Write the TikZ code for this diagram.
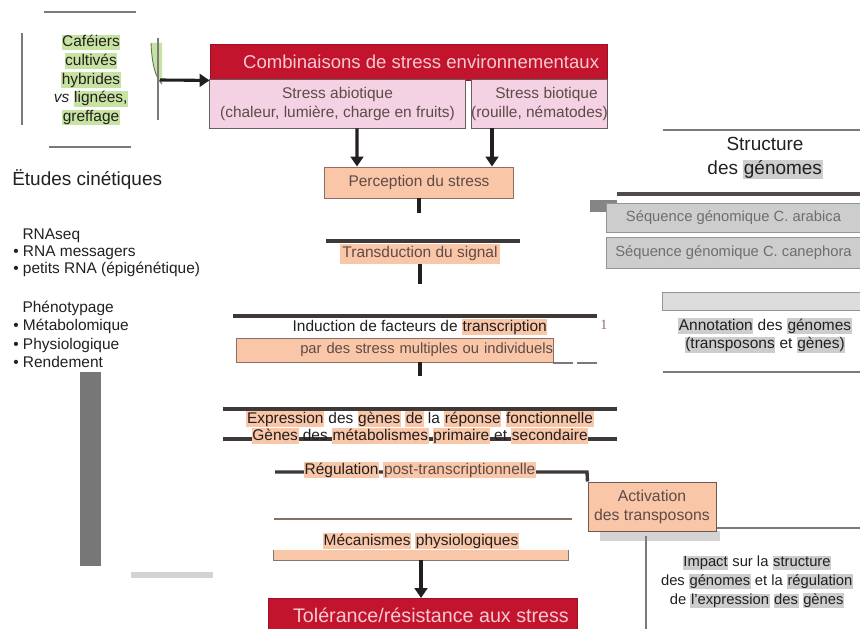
\documentclass[tikz,border=0pt]{standalone}
\usepackage{fontspec}
\setmainfont{Liberation Sans}
\newfontfamily\serifface{Liberation Serif}
\usepackage{xcolor}
\usepackage{tikz}
\usetikzlibrary{calc,arrows.meta}
\definecolor{ink}{HTML}{231F20}
\definecolor{blur}{HTML}{5E4B47}
\definecolor{crimson}{HTML}{C3142D}
\definecolor{blush}{HTML}{F4D2E4}
\definecolor{peach}{HTML}{FAC6A8}
\definecolor{leaf}{HTML}{C6E3A1}
\definecolor{fog}{HTML}{CDCDCD}
\definecolor{rulegrey}{HTML}{7A7A7A}
\definecolor{ruledark}{HTML}{3E3837}
\definecolor{rulebrown}{HTML}{8C6E66}
\definecolor{pinktext}{HTML}{F7C9D1}
\definecolor{slab}{HTML}{777777}
\definecolor{mist}{HTML}{D3D3D3}
\newcommand{\hlpeach}[1]{{\setlength{\fboxsep}{0.4pt}\colorbox{peach}{\vphantom{dg}#1}}}
\newcommand{\hlleaf}[1]{{\setlength{\fboxsep}{0.4pt}\colorbox{leaf}{\vphantom{dg}#1}}}
\newcommand{\hlfog}[1]{{\setlength{\fboxsep}{0.4pt}\colorbox{fog}{\vphantom{dg}#1}}}
\tikzset{
  redbox/.style={fill=crimson, draw=crimson!80!black, line width=0.6pt, text=pinktext, font=\fontsize{13.2}{15}\selectfont, inner sep=0pt},
  pinkbox/.style={fill=blush, draw=ruledark!80, line width=0.7pt, text=blur, font=\fontsize{11}{13}\selectfont, align=center, inner sep=0pt},
  peachbox/.style={fill=peach, draw=rulebrown, line width=0.7pt, text=blur, font=\fontsize{11}{13}\selectfont, align=center, inner sep=0pt},
  seqbox/.style={fill=fog, draw=rulegrey!80, line width=0.7pt, text=rulegrey!90!black, font=\fontsize{10.5}{12}\selectfont, inner sep=0pt},
  lab/.style={text=ink, font=\fontsize{11}{13.3}\selectfont, inner sep=0pt, align=center},
  thinline/.style={draw=rulegrey, line width=1pt},
  heavyline/.style={draw=ruledark, line width=2.4pt},
  arr/.style={draw=ink, line width=2.2pt, -{Triangle[width=9pt,length=7pt]}},
  stub/.style={draw=ink, line width=2.2pt}
}
\begin{document}
\begin{tikzpicture}[x=0.025cm, y=-0.025cm]
  \useasboundingbox (0,0) rectangle (860,629);
  \clip (0,0) rectangle (860,629);

  \draw[thinline] (44,12) -- (136,12);
  \draw[thinline] (22,33) -- (22,125);
  \draw[thinline] (49,147) -- (131,147);
  \node[lab] (cafe) at (91,80) {\hlleaf{Caféiers}\\\hlleaf{cultivés}\\\hlleaf{hybrides}\\\textit{vs} \hlleaf{lignées,}\\\hlleaf{greffage}};
  \fill[leaf] (151,43) .. controls (152,66) and (156,78) .. (162,84) -- (162,43) -- cycle;
  \draw[leaf!50!black, line width=0.6pt] (151,43) .. controls (152,66) and (156,78) .. (162,84);
  \draw[thinline] (158,38) -- (158,120);
  \coordinate (cafeout) at (160,80);

  \node[redbox, minimum width=9.925cm, minimum height=0.9cm] (combi) at (408.5,62) {\hspace{18pt}Combinaisons de stress environnementaux};
  \node[pinkbox, minimum width=6.375cm, minimum height=1.2cm] (abio) at (337.5,104) {Stress abiotique\\(chaleur, lumière, charge en fruits)};
  \node[pinkbox, minimum width=3.375cm, minimum height=1.2cm] (bio) at (539.5,104) {\hspace{10pt}Stress biotique\\(rouille, nématodes)};
  \node[peachbox, minimum width=4.7cm, minimum height=0.775cm] (perc) at (419,182.5) {Perception du stress};
  \draw[arr] (cafeout) -- (combi.south west);
  \draw[arr] ($(abio.south)+(19.5,0)$) -- ($(perc.north)+(-62,0)$);
  \draw[arr] ($(bio.south)+(-47.5,0)$) -- ($(perc.north)+(73,0)$);
  \coordinate (percstub) at (419,213);
  \draw[stub] (perc.south) -- (percstub);

  \draw[heavyline] (326,241) -- (520,241);
  \node[peachbox, draw=none, minimum width=4cm, minimum height=0.5cm] (trans) at (420,254) {Transduction du signal};
  \coordinate (transstub) at (420,284);
  \draw[stub] (trans.south) -- (transstub);

  \draw[heavyline] (233,316) -- (597,316);
  \node[lab] (induc) at (420,327) {Induction de facteurs de \hlpeach{transcription}};
  \node[peachbox, text width=7.9cm, align=right, minimum height=0.6cm, font=\fontsize{10.5}{12}\selectfont] (induccause) at (395,350) {par des stress multiples ou individuels\hspace{2pt}};
  \node[font=\serifface\fontsize{10}{12}\selectfont, text=rulebrown, inner sep=0pt] (stray) at (604,325) {1};
  \draw[thinline] (553,363) -- (573,363);
  \draw[thinline] (577,363) -- (597,363);
  \coordinate (inducstub) at (420,376);
  \draw[stub] (induccause.south -| inducstub) -- (inducstub);

  \draw[heavyline] (223,409) -- (617,409);
  \draw[heavyline] (223,439) -- (617,439);
  \node[lab] (expr) at (420,419) {\hlpeach{Expression} des \hlpeach{gènes} \hlpeach{de} la \hlpeach{réponse} \hlpeach{fonctionnelle}};
  \node[lab] (meta) at (420,436) {\hlpeach{Gènes} des \hlpeach{métabolismes} \hlpeach{primaire} et \hlpeach{secondaire}};

  \fill[mist] (600,531) rectangle (720,541);
  \node[peachbox, draw=rulebrown!80!black, minimum width=3.2cm, minimum height=1.225cm, font=\fontsize{11.2}{13.5}\selectfont] (activ) at (652,506.5) {Activation\\des transposons};
  \draw[heavyline] (275,472) -- (587,472) -- (activ.north west);
  \node[lab] (regul) at (420,470) {\hlpeach{Régulation} \hlpeach{\color{blur}post-transcriptionnelle}};

  \coordinate (impactend) at (860,528);
  \draw[thinline] (activ.east |- impactend) -- (impactend);
  \coordinate (impacttop) at (646,536);
  \coordinate (impactfoot) at (646,629);
  \draw[thinline] (impacttop) -- (impactfoot);
  \node[lab, font=\fontsize{10.5}{13.5}\selectfont] (impact) at (757,582) {\hlfog{Impact} sur la \hlfog{structure}\\des \hlfog{génomes} et la \hlfog{régulation}\\de \hlfog{l'expression} \hlfog{des} \hlfog{gènes}};

  \draw[thinline, draw=rulebrown, line width=1.6pt] (274,519) -- (572,519);
  \node[peachbox, draw=none, minimum width=7.35cm, minimum height=0.25cm] (meca) at (421,555) {};
  \draw[rulegrey, line width=0.8pt] (meca.north west) -- (meca.south west) -- (meca.south east) -- (meca.north east);
  \node[lab] (mecatext) at (421,541) {\hlpeach{Mécanismes} \hlpeach{physiologiques}};
  \node[redbox, minimum width=7.725cm, minimum height=0.85cm, anchor=north, font=\fontsize{14}{16}\selectfont] (tol) at (422.5,598) {\hspace{12pt}Tolérance/résistance aux stress};
  \draw[arr] (meca.south) -- (meca.south |- tol.north);

  \fill[slab] (80,372) rectangle (101,566);
  \fill[mist] (131,572) rectangle (213,578);
  \node[anchor=west, text=ink, font=\fontsize{13.5}{15}\selectfont, inner sep=0pt] (etudes) at (12,180) {Ëtudes cinétiques};
  \node[anchor=north west, align=left, text=ink, font=\fontsize{11}{11.8}\selectfont, inner sep=0pt] (rnaseq) at (13,229) {\hspace{0.6em}RNAseq\\\textbullet\ RNA messagers\\\textbullet\ petits RNA (épigénétique)};
  \node[anchor=north west, align=left, text=ink, font=\fontsize{11}{13}\selectfont, inner sep=0pt] (pheno) at (13,301) {\hspace{0.6em}Phénotypage\\\textbullet\ Métabolomique\\\textbullet\ Physiologique\\\textbullet\ Rendement};

  \draw[thinline] (663,130) -- (860,130);
  \node[lab, font=\fontsize{13.5}{17}\selectfont] (struct) at (765,158) {Structure\\des \hlfog{génomes}};
  \draw[heavyline, draw=ruledark!90] (617,194) -- (860,194);
  \fill[slab!90] (590,200) rectangle (617,212);
  \node[seqbox, minimum width=6.325cm, minimum height=0.725cm] (arabica) at (733.5,217.5) {Séquence génomique C. arabica};
  \node[seqbox, minimum width=6.325cm, minimum height=0.775cm] (canephora) at (733.5,252.5) {Séquence génomique C. canephora};
  \node[seqbox, fill=fog!70, minimum width=4.925cm, minimum height=0.45cm] (annotbar) at (761.5,301) {};
  \node[lab] (annot) at (765,335.5) {\hlfog{Annotation} des \hlfog{génomes}\\\hlfog{(transposons} et \hlfog{gènes)}};
  \draw[thinline] (663,372) -- (860,372);
\end{tikzpicture}
\end{document}
